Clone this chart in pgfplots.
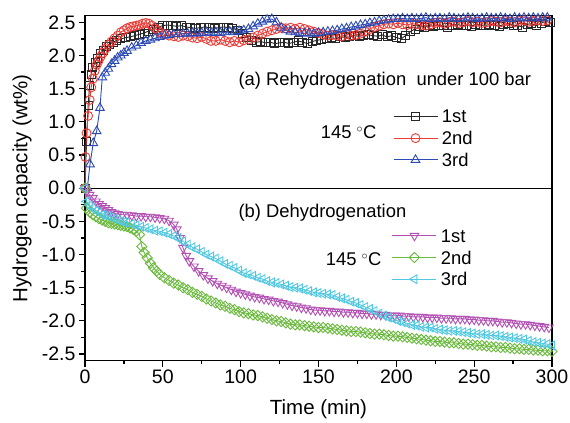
\documentclass[border=0pt]{standalone}
\usepackage{fontspec}
\setmainfont{Liberation Sans}
\usepackage{pgfplots}
\pgfplotsset{compat=1.18}
\usepackage{pgfplotstable}

\definecolor{cblack}{RGB}{40,40,40}
\definecolor{cred}{RGB}{235,60,55}
\definecolor{cblue}{RGB}{45,75,180}
\definecolor{cpurple}{RGB}{178,80,180}
\definecolor{cgreen}{RGB}{105,185,60}
\definecolor{ccyan}{RGB}{80,200,225}

% Rehydrogenation, 1st
\pgfplotstableread{
t v
0 0
1 0.7
2 1.25
3 1.55
4 1.72
5 1.82
6.5 1.9
8 1.96
10 2.03
12 2.08
14 2.13
16 2.17
18 2.2
20 2.22
23 2.25
26 2.27
29 2.28
32 2.3
35 2.32
38 2.34
41 2.37
44 2.4
47 2.43
50 2.45
53 2.46
56 2.45
59 2.44
62 2.45
65 2.43
68 2.42
71 2.41
74 2.42
77 2.43
80 2.42
83 2.41
86 2.42
89 2.43
92 2.42
95 2.41
98 2.38
101 2.33
104 2.27
107 2.22
110 2.2
113 2.21
116 2.19
119 2.2
122 2.18
125 2.19
128 2.2
131 2.18
134 2.2
137 2.22
140 2.2
143 2.18
146 2.21
149 2.23
152 2.24
155 2.26
158 2.27
161 2.25
164 2.28
167 2.27
170 2.28
173 2.3
176 2.29
179 2.3
182 2.31
185 2.3
188 2.29
191 2.31
194 2.28
197 2.3
200 2.27
203 2.25
206 2.3
209 2.36
212 2.4
215 2.44
218 2.43
221 2.45
224 2.44
227 2.46
230 2.45
233 2.43
236 2.46
239 2.47
242 2.45
245 2.46
248 2.44
251 2.47
254 2.46
257 2.45
260 2.47
263 2.46
266 2.44
269 2.47
272 2.48
275 2.46
278 2.45
281 2.43
284 2.47
287 2.48
290 2.45
293 2.49
296 2.51
299 2.5
}\reA

% Rehydrogenation, 2nd
\pgfplotstableread{
t v
0 0
0.3 0.47
1 0.83
2 1.09
3 1.33
4 1.52
5 1.65
6.3 1.77
7.5 1.86
8.7 1.92
10 1.98
11.5 2.04
13 2.1
15 2.16
17 2.21
19 2.26
21 2.3
23 2.35
25 2.38
27 2.41
29 2.43
31 2.44
33 2.45
35 2.46
37 2.48
39 2.49
41 2.48
43 2.45
45 2.41
47 2.37
49 2.34
51 2.32
54 2.3
57 2.29
60 2.28
63 2.3
66 2.29
69 2.27
72 2.26
75 2.28
78 2.25
81 2.22
84 2.22
87 2.24
90 2.22
93 2.2
96 2.22
99 2.2
102 2.23
105 2.24
108 2.27
111 2.3
114 2.33
117 2.36
120 2.38
123 2.4
126 2.42
129 2.41
132 2.42
135 2.4
138 2.42
141 2.4
144 2.38
147 2.36
150 2.34
153 2.32
156 2.3
159 2.31
162 2.3
165 2.29
168 2.32
171 2.3
174 2.31
177 2.33
180 2.36
183 2.4
186 2.43
189 2.45
192 2.47
195 2.48
198 2.47
201 2.49
204 2.47
207 2.46
210 2.48
213 2.47
216 2.46
219 2.45
222 2.47
225 2.49
228 2.5
231 2.48
234 2.5
237 2.51
240 2.49
243 2.5
246 2.52
249 2.5
252 2.51
255 2.49
258 2.5
261 2.52
264 2.51
267 2.5
270 2.52
273 2.51
276 2.5
279 2.52
282 2.53
285 2.51
288 2.52
291 2.53
294 2.52
297 2.53
}\reB

% Rehydrogenation, 3rd
\pgfplotstableread{
t v
1.5 0
3.2 0.36
5.3 0.68
7.5 0.86
9.6 1.21
11.1 1.67
13 1.74
15 1.8
17 1.87
19 1.92
21 1.97
23 2.0
25 2.04
27 2.07
30 2.12
33 2.15
36 2.19
39 2.22
42 2.24
45 2.26
48 2.28
51 2.3
54 2.31
57 2.32
60 2.32
63 2.33
66 2.33
69 2.34
72 2.33
75 2.34
78 2.35
81 2.34
84 2.35
87 2.34
90 2.35
93 2.36
96 2.35
99 2.37
102 2.38
105 2.4
108 2.44
111 2.48
114 2.51
117 2.54
120 2.55
123 2.5
126 2.42
129 2.38
132 2.36
135 2.35
138 2.34
141 2.33
144 2.34
147 2.33
150 2.34
153 2.35
156 2.36
159 2.37
162 2.38
165 2.4
168 2.41
171 2.43
174 2.44
177 2.46
180 2.47
183 2.49
186 2.5
189 2.52
192 2.53
195 2.54
198 2.55
201 2.55
204 2.56
207 2.55
210 2.56
213 2.55
216 2.56
219 2.57
222 2.55
225 2.56
228 2.56
231 2.55
234 2.57
237 2.56
240 2.55
243 2.56
246 2.57
249 2.56
252 2.55
255 2.56
258 2.57
261 2.56
264 2.56
267 2.57
270 2.56
273 2.55
276 2.57
279 2.56
282 2.57
285 2.56
288 2.57
291 2.56
294 2.57
297 2.57
}\reC

% Dehydrogenation, 1st
\pgfplotstableread{
t v
0 0
1 -0.05
3 -0.1
5 -0.15
7 -0.2
9 -0.24
11 -0.27
13 -0.3
15 -0.33
17 -0.36
19 -0.38
21 -0.39
24 -0.4
27 -0.4
30 -0.41
33 -0.42
36 -0.42
39 -0.43
42 -0.43
45 -0.44
48 -0.45
51 -0.46
54 -0.49
57 -0.55
59 -0.62
61 -0.75
63 -0.9
65 -1.02
67 -1.1
70 -1.18
73 -1.25
76 -1.31
79 -1.36
82 -1.4
85 -1.44
88 -1.47
91 -1.5
94 -1.53
97 -1.56
100 -1.58
103 -1.6
106 -1.62
109 -1.64
112 -1.65
115 -1.67
118 -1.68
121 -1.7
124 -1.71
127 -1.73
130 -1.75
133 -1.77
136 -1.78
139 -1.8
142 -1.81
145 -1.83
148 -1.84
151 -1.84
154 -1.85
157 -1.85
160 -1.86
163 -1.86
166 -1.87
169 -1.87
172 -1.88
175 -1.88
178 -1.89
181 -1.89
184 -1.9
187 -1.9
190 -1.91
193 -1.91
196 -1.92
199 -1.92
202 -1.92
205 -1.93
208 -1.93
211 -1.94
214 -1.94
217 -1.94
220 -1.95
223 -1.95
226 -1.95
229 -1.96
232 -1.96
235 -1.96
238 -1.97
241 -1.97
244 -1.97
247 -1.98
250 -1.98
253 -1.99
256 -1.99
259 -2.0
262 -2.0
265 -2.01
268 -2.02
271 -2.02
274 -2.03
277 -2.04
280 -2.05
283 -2.05
286 -2.06
289 -2.07
292 -2.08
295 -2.09
298 -2.1
}\deA

% Dehydrogenation, 2nd
\pgfplotstableread{
t v
0 0
1 -0.3
3 -0.36
5 -0.4
7 -0.43
9 -0.46
11 -0.48
13 -0.5
15 -0.52
17 -0.53
19 -0.54
21 -0.55
23 -0.56
25 -0.57
27 -0.58
29 -0.6
31 -0.62
33 -0.65
35 -0.7
36.5 -0.88
38 -0.97
40 -1.05
42 -1.13
44 -1.2
46 -1.25
48 -1.3
51 -1.35
54 -1.39
57 -1.43
60 -1.46
63 -1.5
66 -1.53
69 -1.57
72 -1.6
75 -1.63
78 -1.67
81 -1.7
84 -1.73
87 -1.76
90 -1.78
93 -1.81
96 -1.83
99 -1.86
102 -1.88
105 -1.89
108 -1.91
111 -1.92
114 -1.94
117 -1.96
120 -1.98
123 -2.0
126 -2.01
129 -2.03
132 -2.05
135 -2.06
138 -2.06
141 -2.07
144 -2.08
147 -2.09
150 -2.1
153 -2.1
156 -2.11
159 -2.12
162 -2.13
165 -2.14
168 -2.15
171 -2.16
174 -2.16
177 -2.17
180 -2.18
183 -2.19
186 -2.2
189 -2.2
192 -2.21
195 -2.22
198 -2.23
201 -2.23
204 -2.24
207 -2.25
210 -2.26
213 -2.27
216 -2.28
219 -2.29
222 -2.3
225 -2.31
228 -2.31
231 -2.32
234 -2.33
237 -2.33
240 -2.34
243 -2.35
246 -2.35
249 -2.36
252 -2.37
255 -2.37
258 -2.38
261 -2.39
264 -2.39
267 -2.4
270 -2.4
273 -2.41
276 -2.42
279 -2.42
282 -2.43
285 -2.43
288 -2.44
291 -2.44
294 -2.45
297 -2.45
300 -2.46
}\deB

% Dehydrogenation, 3rd
\pgfplotstableread{
t v
0 0
1 -0.2
3 -0.26
5 -0.3
7 -0.34
9 -0.37
11 -0.4
13 -0.41
15 -0.42
17 -0.44
19 -0.46
21 -0.48
23 -0.5
25 -0.51
27 -0.52
30 -0.54
33 -0.56
36 -0.58
39 -0.6
42 -0.62
45 -0.64
48 -0.65
51 -0.67
54 -0.69
57 -0.72
60 -0.75
63 -0.8
66 -0.85
69 -0.89
72 -0.92
75 -0.96
78 -1.0
81 -1.03
84 -1.06
87 -1.1
90 -1.14
93 -1.17
96 -1.2
99 -1.24
102 -1.28
105 -1.3
108 -1.32
111 -1.35
114 -1.37
117 -1.4
120 -1.42
123 -1.43
126 -1.45
129 -1.47
132 -1.49
135 -1.5
138 -1.51
141 -1.53
144 -1.55
147 -1.57
150 -1.58
153 -1.59
156 -1.6
159 -1.61
162 -1.64
165 -1.66
168 -1.68
171 -1.71
174 -1.73
177 -1.76
180 -1.79
183 -1.82
186 -1.85
189 -1.89
192 -1.92
195 -1.95
198 -1.97
201 -2.0
204 -2.02
207 -2.04
210 -2.06
213 -2.07
216 -2.09
219 -2.1
222 -2.1
225 -2.12
228 -2.13
231 -2.14
234 -2.15
237 -2.15
240 -2.16
243 -2.17
246 -2.18
249 -2.19
252 -2.2
255 -2.2
258 -2.21
261 -2.22
264 -2.22
267 -2.23
270 -2.24
273 -2.25
276 -2.26
279 -2.27
282 -2.28
285 -2.3
288 -2.32
291 -2.33
294 -2.34
297 -2.35
300 -2.37
}\deC

\pgfplotsset{
  base/.style={
    width=467pt, height=345pt, scale only axis,
    at={(0pt,0pt)}, anchor=south west,
    xmin=0, xmax=300, ymin=-2.6, ymax=2.6,
    legend image code/.code={\draw[mark repeat=2,mark phase=2,##1] plot coordinates {(0pt,0pt) (22pt,0pt) (44pt,0pt)};},
    legend cell align=left,
  },
  lgd/.style={
    legend style={draw=none, fill=none, inner sep=0pt, outer sep=0pt,
      row sep=8.7pt,
      font=\fontsize{18.4pt}{22pt}\selectfont,
      nodes={inner sep=0pt, text height=13pt, text depth=0pt},
      /tikz/every odd column/.style={column sep=4pt},
      anchor=north west, at={(axis cs:#1)}},
  },
  ser/.style={line width=0.9pt, mark options={solid, fill=white, line width=0.9pt}},
}

\begin{document}
\begin{tikzpicture}
\useasboundingbox (-85pt,-62pt) rectangle (485pt,360.7pt);
\begin{axis}[base, lgd={197.9,1.18},
  xtick={0,50,100,150,200,250,300},
  ytick={-2.5,-2,-1.5,-1,-0.5,0,0.5,1,1.5,2,2.5},
  yticklabels={-2.5,-2.0,-1.5,-1.0,-0.5,0.0,0.5,1.0,1.5,2.0,2.5},
  /pgf/number format/assume math mode=true,
  minor x tick num=1, minor y tick num=1,
  tick align=outside, xtick pos=bottom, ytick pos=left,
  major tick length=6pt, minor tick length=3.5pt,
  every tick/.style={black, line width=1.2pt},
  axis line style={line width=1.4pt},
  tick label style={font=\fontsize{19.5pt}{23pt}\selectfont},
  xlabel={Time (min)}, ylabel={Hydrogen capacity (wt\%)},
  label style={font=\fontsize{20.5pt}{24pt}\selectfont},
  x label style={at={(rel axis cs:0.5,-0.142)}, anchor=center},
  y label style={at={(rel axis cs:-0.1349,0.5)}, anchor=center, rotate=0},
]
\addplot[ser, cblack, mark=square, mark size=4pt] table[x=t,y=v] {\reA};
\addlegendentry{1st}
\addplot[ser, cred, mark=o, mark size=4.5pt] table[x=t,y=v] {\reB};
\addlegendentry{2nd}
\addplot[ser, cblue, mark=triangle, mark size=5pt] table[x=t,y=v] {\reC};
\addlegendentry{3rd}
\draw[line width=1.4pt] (axis cs:0,0) -- (axis cs:300,0);
\node[anchor=base west, font=\fontsize{18.4pt}{22pt}\selectfont] at (axis cs:96.4,1.545) {(a) Rehydrogenation\ \ under 100 bar};
\node[anchor=base east, font=\fontsize{18.4pt}{22pt}\selectfont] at (axis cs:189.5,0.746) {145 $^{\circ}$C};
\node[anchor=base west, font=\fontsize{18.4pt}{22pt}\selectfont] at (axis cs:96.4,-0.44) {(b) Dehydrogenation};
\node[anchor=base east, font=\fontsize{18.4pt}{22pt}\selectfont] at (axis cs:192.7,-1.168) {145 $^{\circ}$C};
\end{axis}
\begin{axis}[base, lgd={197.2,-0.62}, hide axis]
\addplot[ser, cpurple, mark=triangle, mark size=5pt, mark options={rotate=180}] table[x=t,y=v] {\deA};
\addlegendentry{1st}
\addplot[ser, cgreen, mark=square, mark size=3.6pt, mark options={rotate=45}] table[x=t,y=v] {\deB};
\addlegendentry{2nd}
\addplot[ser, ccyan, mark=triangle, mark size=5pt, mark options={rotate=90}] table[x=t,y=v] {\deC};
\addlegendentry{3rd}
\end{axis}
\end{tikzpicture}
\end{document}
